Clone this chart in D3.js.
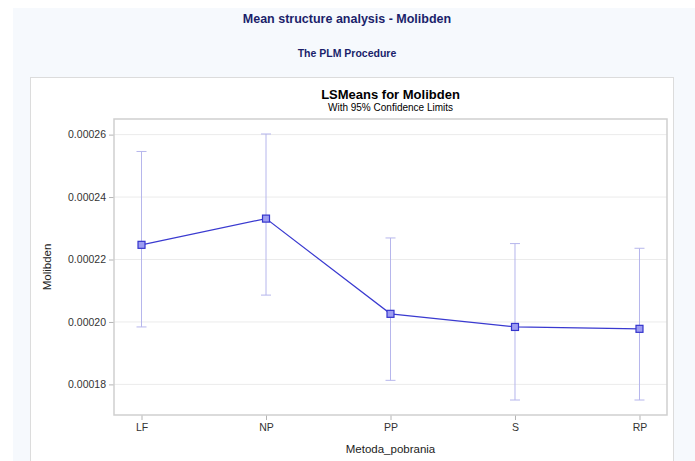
<!DOCTYPE html>
<html><head><meta charset="utf-8">
<script src="https://cdn.jsdelivr.net/npm/d3@7"></script>
<style>html,body{margin:0;padding:0;background:#fff;}svg{display:block;}</style>
</head><body>
<script>
const categories = ["LF", "NP", "PP", "S", "RP"];
const means = [0.0002247, 0.0002331, 0.0002026, 0.0001984, 0.0001978];
const upper = [0.0002546, 0.0002602, 0.0002269, 0.0002251, 0.0002236];
const lower = [0.0001984, 0.0002086, 0.0001813, 0.0001750, 0.0001750];
const yTicks = [0.00018, 0.00020, 0.00022, 0.00024, 0.00026];

const W = 695, H = 461;
const svg = d3.select("body").append("svg").attr("width", W).attr("height", H)
  .style("font-family", "Arial, 'Liberation Sans', Helvetica, sans-serif");

svg.append("rect").attr("x", 13).attr("y", 8).attr("width", W - 13).attr("height", H - 8).attr("fill", "#f6f9fd");
svg.append("rect").attr("x", 30.5).attr("y", 77.5).attr("width", 643).attr("height", 400)
  .attr("fill", "#fff").attr("stroke", "#dcdcdc");

svg.append("text").attr("x", 347).attr("y", 23).attr("text-anchor", "middle")
  .attr("font-size", 12.5).attr("font-weight", "bold").attr("fill", "#1b1f6b")
  .text("Mean structure analysis - Molibden");
svg.append("text").attr("x", 347).attr("y", 57).attr("text-anchor", "middle")
  .attr("font-size", 10.5).attr("font-weight", "bold").attr("fill", "#1b1f6b")
  .text("The PLM Procedure");

const plot = {left: 114, right: 667, top: 119, bottom: 415};

svg.append("text").attr("x", 390.5).attr("y", 99).attr("text-anchor", "middle")
  .attr("font-size", 13).attr("font-weight", "bold").attr("fill", "#000")
  .text("LSMeans for Molibden");
svg.append("text").attr("x", 390.5).attr("y", 111).attr("text-anchor", "middle")
  .attr("font-size", 10).attr("fill", "#000")
  .text("With 95% Confidence Limits");

const x = d3.scalePoint().domain(categories).range([plot.left, plot.right]).padding(0.221);
const y = d3.scaleLinear().domain([0.0001702, 0.000265]).range([plot.bottom, plot.top]);

// gridlines
svg.append("g").selectAll("line").data(yTicks).join("line")
  .attr("x1", plot.left).attr("x2", plot.right)
  .attr("y1", d => y(d)).attr("y2", d => y(d))
  .attr("stroke", "#ebebeb").attr("stroke-width", 1);

// axes
const yAxis = svg.append("g").attr("transform", `translate(${plot.left},0)`)
  .call(d3.axisLeft(y).tickValues(yTicks).tickFormat(d3.format(".5f")).tickSize(5).tickPadding(3));
const xAxis = svg.append("g").attr("transform", `translate(0,${plot.bottom})`)
  .call(d3.axisBottom(x).tickSize(5).tickPadding(4));
[yAxis, xAxis].forEach(a => {
  a.select(".domain").remove();
  a.selectAll(".tick line").attr("stroke", "#b4b4b4");
  a.selectAll(".tick text").attr("fill", "#333").attr("font-size", 10.5)
    .style("font-family", "Arial, 'Liberation Sans', sans-serif");
});

svg.append("rect").attr("x", plot.left).attr("y", plot.top)
  .attr("width", plot.right - plot.left).attr("height", plot.bottom - plot.top)
  .attr("fill", "none").attr("stroke", "#cfcfcf").attr("stroke-width", 1.5);

// error bars
const eb = svg.append("g").attr("stroke", "#b6b6ec").attr("stroke-width", 1);
categories.forEach((c, i) => {
  const cx = x(c);
  eb.append("line").attr("x1", cx).attr("x2", cx).attr("y1", y(upper[i])).attr("y2", y(lower[i]));
  eb.append("line").attr("x1", cx - 5).attr("x2", cx + 5).attr("y1", y(upper[i])).attr("y2", y(upper[i]));
  eb.append("line").attr("x1", cx - 5).attr("x2", cx + 5).attr("y1", y(lower[i])).attr("y2", y(lower[i]));
});

// mean line
const pts = categories.map((c, i) => [x(c), y(means[i])]);
svg.append("path").attr("d", d3.line()(pts)).attr("fill", "none")
  .attr("stroke", "#3a3ad0").attr("stroke-width", 1.2);
svg.append("g").selectAll("rect").data(pts).join("rect")
  .attr("x", d => d[0] - 3.5).attr("y", d => d[1] - 3.5).attr("width", 7).attr("height", 7)
  .attr("fill", "#9d9df2").attr("stroke", "#3434cc").attr("stroke-width", 1.2);

// axis labels
svg.append("text").attr("x", 390.5).attr("y", 453).attr("text-anchor", "middle")
  .attr("font-size", 11.5).attr("fill", "#222").text("Metoda_pobrania");
svg.append("text").attr("transform", "translate(51,267) rotate(-90)").attr("text-anchor", "middle")
  .attr("font-size", 11.5).attr("fill", "#222").text("Molibden");
</script>
</body></html>
